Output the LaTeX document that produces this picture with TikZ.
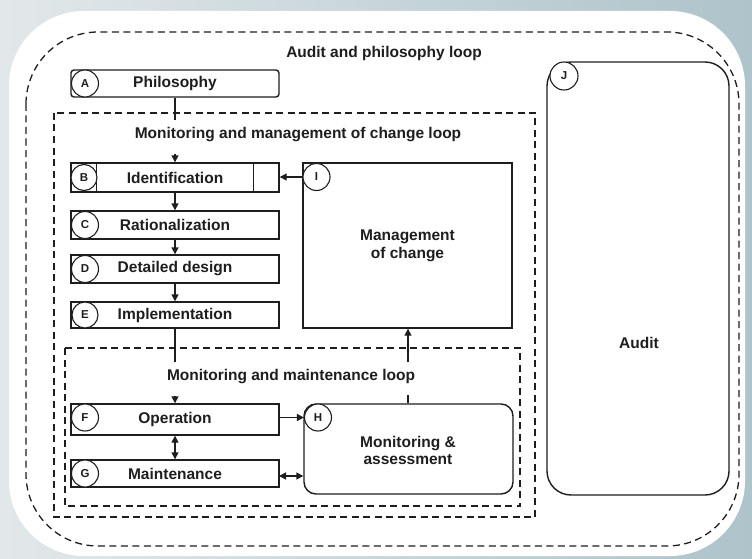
\documentclass[tikz,border=0pt]{standalone}
\usepackage{fontspec}
\setmainfont{Liberation Sans}
\usetikzlibrary{arrows.meta,calc}
\definecolor{ink}{HTML}{1E1E1E}
\definecolor{bgl}{HTML}{E2E8EA}
\definecolor{bgr}{HTML}{AEC3CA}
\tikzset{
  box/.style={draw=ink, line width=1.4pt, fill=white, minimum width=208, minimum height=28, inner sep=0pt,
    font=\bfseries\fontsize{15.5}{18}\selectfont, text=ink, align=center},
  lbl/.style={circle, draw=ink, line width=1.1pt, fill=white, minimum size=27, inner sep=0pt,
    font=\bfseries\fontsize{11.5}{12}\selectfont, text=ink},
  looptxt/.style={font=\bfseries\fontsize{15.5}{18}\selectfont, text=ink, inner sep=1pt},
  loopbox/.style={draw=ink, line width=1.3pt, dash pattern=on 7pt off 4.5pt},
  conn/.style={draw=ink, line width=1.4pt},
  arr/.style={conn, -{Triangle[length=7pt,width=7pt]}},
  dblarr/.style={conn, {Triangle[length=7pt,width=7pt]}-{Triangle[length=7pt,width=7pt]}}
}
\begin{document}
\begin{tikzpicture}[x=1pt,y=-1pt]
\useasboundingbox (0,0) rectangle (752,559);
% background
\shade[left color=bgl, right color=bgr] (0,0) rectangle (752,559);
\fill[white, rounded corners=75] (9,11) rectangle (745,556);
% loops
\draw[loopbox, rounded corners=72] (26,32) rectangle (739,546);
\draw[loopbox] (54,113) rectangle (535,517);
\draw[loopbox] (65,348) rectangle (520,506);
\node[looptxt] (L1) at (384,53) {Audit and philosophy loop};
\node[looptxt] (L2) at (298,135) {Monitoring and management of change loop};
\node[looptxt] (L3) at (291,377) {Monitoring and maintenance loop};
% boxes
\node[box, rounded corners=3, minimum height=27] (A) at (175,83.5) {Philosophy};
\node[box, minimum height=29] (B) at (175,177.5) {Identification};
\node[box] (C) at (175,225) {Rationalization};
\node[box] (D) at (175,269) {Detailed design};
\node[box, minimum height=26] (E) at (175,315) {Implementation};
\node[box, minimum height=31] (F) at (175,419.5) {Operation};
\node[box, minimum height=27] (G) at (175,473.5) {Maintenance};
\draw[conn] ([xshift=26pt]B.north west) -- ([xshift=26pt]B.south west);
\draw[conn] ([xshift=-26pt]B.north east) -- ([xshift=-26pt]B.south east);
\node[box, minimum width=209, minimum height=165] (I) at (407.5,245.5) {Management\\of change};
\node[box, rounded corners=12, minimum width=209, minimum height=90, text depth=0pt] (H) at (408.5,449) {};
\node[looptxt, align=center, font=\bfseries\fontsize{15.5}{17}\selectfont] (Ht) at (408,450) {Monitoring \&\\assessment};
\node[box, rounded corners=24, minimum width=182, minimum height=433] (J) at (638,278.5) {};
\node[looptxt] (Jt) at (639,343) {Audit};
% circles
\node[lbl] (Ac) at (85,83.5) {A};
\node[lbl, minimum size=26] (Bc) at (84,177.5) {B};
\node[lbl] (Cc) at (85,225) {C};
\node[lbl] (Dc) at (85,269) {D};
\node[lbl, minimum size=26] (Ec) at (85,315) {E};
\node[lbl] (Fc) at (85,417.5) {F};
\node[lbl] (Gc) at (85,473.5) {G};
\node[lbl] (Hc) at (318,417.5) {H};
\node[lbl] (Ic) at (316.5,177) {I};
\node[lbl, minimum size=28] (Jc) at (564,76) {J};
% connectors
\coordinate (a1) at (175,120);
\coordinate (m1) at (175,154);
\coordinate (e1) at (175,362);
\coordinate (f1) at (175,396);
\coordinate (g1) at (279,476);
\coordinate (h1) at (408,395);
\coordinate (h2) at (408,362);
\draw[conn] (A.south) -- (a1);
\draw[arr] (m1) -- (B.north);
\draw[arr] (B.south) -- (C.north);
\draw[arr] (C.south) -- (D.north);
\draw[arr] (D.south) -- (E.north);
\draw[conn] (E.south) -- (e1);
\draw[arr] (f1) -- (F.north);
\draw[dblarr] (F.south) -- (G.north);
\draw[arr] (Fc -| F.east) -- (Hc.west);
\draw[dblarr] (g1) -- (g1 -| H.west);
\draw[arr] (Ic.west) -- (Ic.west -| B.east);
\draw[conn] (h1 |- H.north) -- (h1);
\draw[arr] (h2) -- (h2 |- I.south);
\end{tikzpicture}
\end{document}
